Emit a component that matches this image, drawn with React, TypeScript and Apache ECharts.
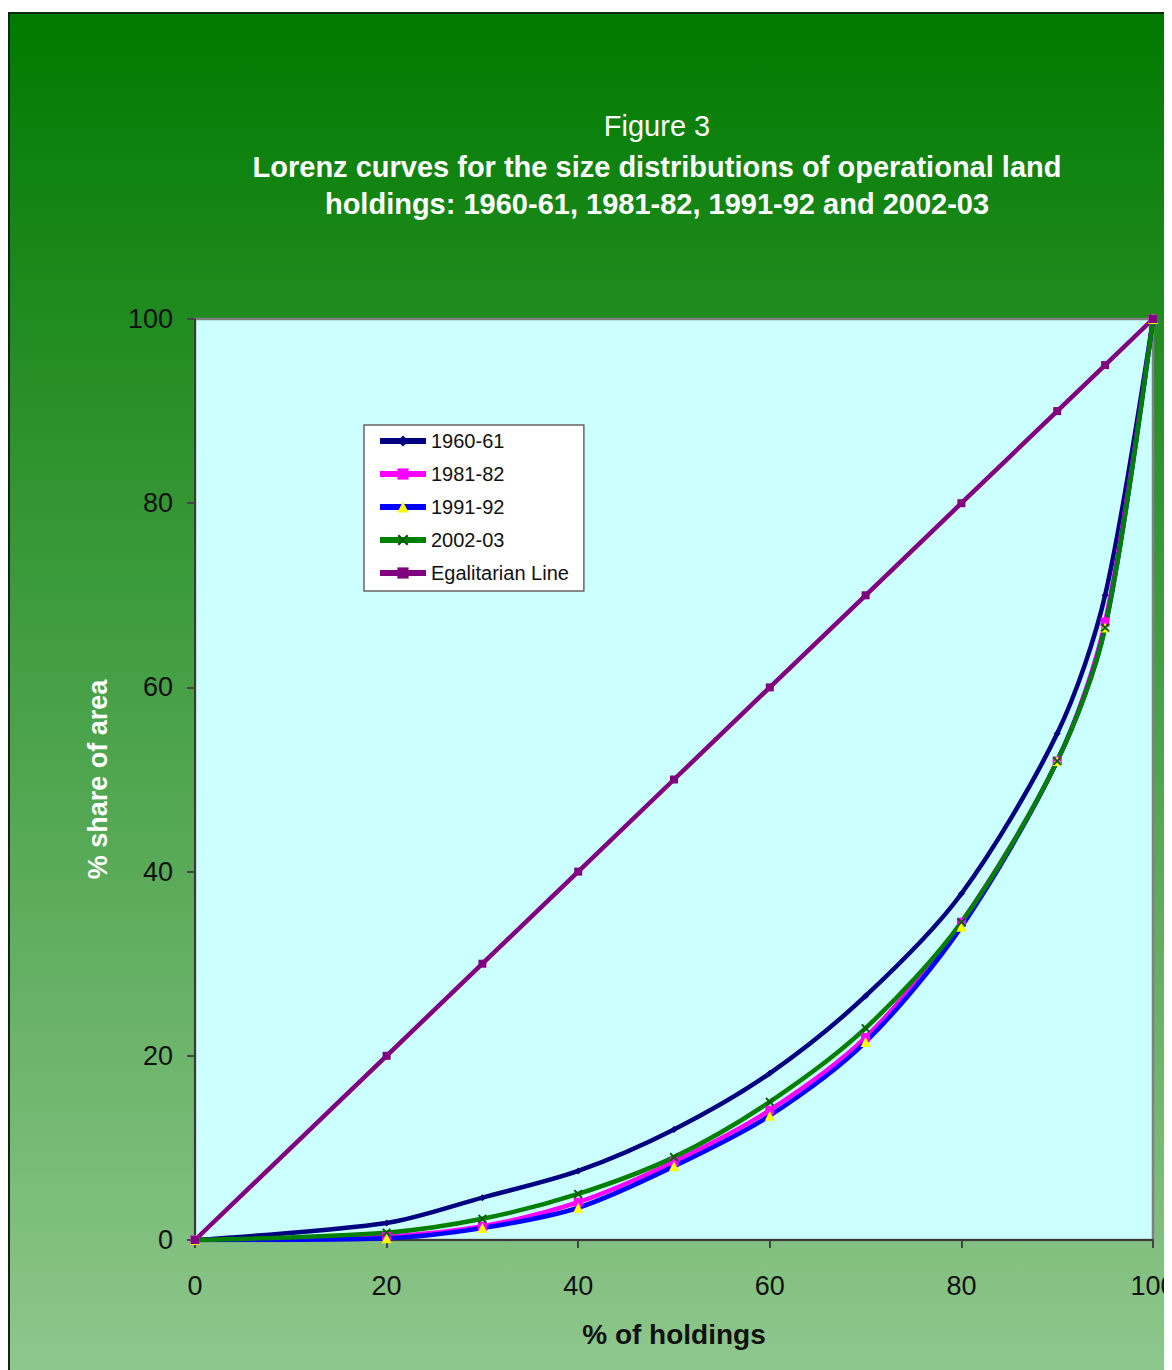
import React, { useEffect, useRef } from "react";
import * as echarts from "echarts";

const holdingsPct = [0, 20, 30, 40, 50, 60, 70, 80, 90, 95, 100];
const s1960 = [0, 1.85, 4.6, 7.5, 12.0, 18.1, 26.5, 37.6, 55.0, 70.0, 100];
const s1981 = [0, 0.4, 1.5, 4.1, 8.5, 14.1, 22.0, 34.5, 52.0, 67.1, 100];
const s1991 = [0, 0.2, 1.3, 3.5, 8.0, 13.5, 21.5, 34.0, 52.0, 66.5, 100];
const s2002 = [0, 0.8, 2.3, 5.0, 9.0, 15.0, 23.0, 34.5, 52.0, 66.5, 100];
const sEgal = [0, 20, 30, 40, 50, 60, 70, 80, 90, 95, 100];
const seriesNames = ["1960-61", "1981-82", "1991-92", "2002-03", "Egalitarian Line"];
const titleLines = [
  "Figure 3",
  "Lorenz curves for the size distributions of operational land",
  "holdings: 1960-61, 1981-82, 1991-92 and 2002-03",
];

const pair = (ys: number[]) => holdingsPct.map((x, i) => [x, ys[i]]);

const xSymbol =
  "path://M0,1.5L1.5,0L5,3.5L8.5,0L10,1.5L6.5,5L10,8.5L8.5,10L5,6.5L1.5,10L0,8.5L3.5,5Z";

export default function App() {
  const ref = useRef<HTMLDivElement>(null);
  useEffect(() => {
    document.body.style.overflow = "hidden";
    const chart = echarts.init(ref.current!, null, { renderer: "svg" });
    const font = "'Liberation Sans', Arial, sans-serif";
    const mk = (
      name: string,
      ys: number[],
      color: string,
      symbol: string,
      symbolSize: number,
      symColor: string,
      smooth: number | boolean
    ) => ({
      name,
      type: "line",
      data: pair(ys),
      smooth,
      symbol,
      symbolSize,
      showSymbol: true,
      lineStyle: { color, width: 4.5 },
      itemStyle: { color: symColor, borderWidth: 0 },
      color,
    });
    chart.setOption({
      animation: false,
      graphic: [
        {
          type: "rect",
          z: -100,
          silent: true,
          shape: { x: 1, y: 5, width: 1400, height: 1500 },
          style: {
            fill: new echarts.graphic.LinearGradient(0, 0, 0, 1, [
              { offset: 0, color: "rgb(0,122,0)" },
              { offset: 1, color: "rgb(157,207,155)" },
            ]),
            stroke: "#0b2a0b",
            lineWidth: 2,
          },
        },
      ],
      title: [
        {
          text: titleLines[0],
          left: 644,
          top: 98,
          textAlign: "center",
          textStyle: { color: "#ffffff", fontFamily: font, fontSize: 29, fontWeight: "normal" },
        },
        {
          text: titleLines[1],
          left: 644,
          top: 139,
          textAlign: "center",
          textStyle: { color: "#ffffff", fontFamily: font, fontSize: 29, fontWeight: "bold" },
        },
        {
          text: titleLines[2],
          left: 644,
          top: 176,
          textAlign: "center",
          textStyle: { color: "#ffffff", fontFamily: font, fontSize: 29, fontWeight: "bold" },
        },
      ],
      legend: {
        orient: "vertical",
        left: 356,
        top: 417,
        data: seriesNames,
        itemWidth: 46,
        itemHeight: 14,
        itemGap: 13,
        padding: [6, 15, 8, 13],
        backgroundColor: "#ffffff",
        borderColor: "#666666",
        borderWidth: 1.5,
        borderRadius: 0,
        lineStyle: { width: 6 },
        textStyle: { color: "#111111", fontFamily: font, fontSize: 20 },
      },
      grid: {
        left: 187,
        top: 311,
        width: 958,
        height: 921,
        show: true,
        backgroundColor: "#ccffff",
        borderColor: "#808080",
        borderWidth: 2.5,
        containLabel: false,
      },
      xAxis: {
        type: "value",
        min: 0,
        max: 100,
        interval: 20,
        name: "% of holdings",
        nameLocation: "middle",
        nameGap: 80,
        nameTextStyle: { color: "#111111", fontFamily: font, fontSize: 28, fontWeight: "bold" },
        axisLine: { show: true, lineStyle: { color: "#222222", width: 1.5 } },
        axisTick: { show: true, length: 8, lineStyle: { color: "#444444", width: 2 } },
        axisLabel: { color: "#111111", fontFamily: font, fontSize: 27, margin: 32 },
        splitLine: { show: false },
      },
      yAxis: {
        type: "value",
        min: 0,
        max: 100,
        interval: 20,
        name: "% share of area",
        nameLocation: "middle",
        nameGap: 84,
        nameRotate: 90,
        nameTextStyle: { color: "#ffffff", fontFamily: font, fontSize: 27, fontWeight: "bold" },
        axisLine: { show: true, lineStyle: { color: "#222222", width: 1.5 } },
        axisTick: { show: true, length: 8, lineStyle: { color: "#444444", width: 2 } },
        axisLabel: { color: "#111111", fontFamily: font, fontSize: 27, margin: 22 },
        splitLine: { show: false },
      },
      series: [
        mk(seriesNames[0], s1960, "#000080", "diamond", 7, "#000080", 0.3),
        mk(seriesNames[1], s1981, "#ff00ff", "rect", 9, "#ff00ff", 0.3),
        mk(seriesNames[2], s1991, "#0000ff", "triangle", 10, "#ffff00", 0.3),
        mk(seriesNames[3], s2002, "#008000", xSymbol, 9, "#006000", 0.3),
        mk(seriesNames[4], sEgal, "#800080", "rect", 8, "#800080", false),
      ],
    });
    return () => chart.dispose();
  }, []);
  return (
    <div style={{ width: 1164, height: 1362, overflow: "hidden" }}>
      <div ref={ref} style={{ width: 1240, height: 1362 }} />
    </div>
  );
}
